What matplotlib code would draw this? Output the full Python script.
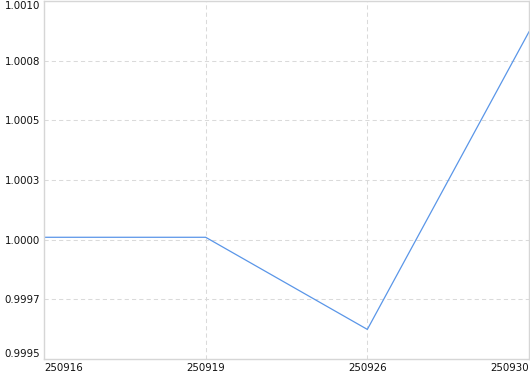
#Importing the required packages
import matplotlib
matplotlib.use('Agg')
import matplotlib.pyplot as plt

#Data
dates = ['250916', '250919', '250926', '250930']
values = [1.00001, 1.00001, 0.999624, 1.000871]
y_ticks = [0.9995, 0.99975, 1.0, 1.00025, 1.0005, 1.00075, 1.001]
y_labels = ['0.9995', '0.9997', '1.0000', '1.0003', '1.0005', '1.0008', '1.0010']

plt.rcParams['font.family'] = 'DejaVu Sans'

fig = plt.figure(figsize=(5.3, 3.74), dpi=100)
ax = fig.add_axes([44/530, 15/374, 485/530, 358/374])

x = list(range(len(dates)))
ax.plot(x, values, color='#5a96e8', linewidth=0.9)

ax.set_xlim(0, len(dates) - 1)
ax.set_ylim(y_ticks[0], y_ticks[-1])

ax.set_xticks(x)
ax.set_xticklabels(dates, fontsize=7.4, color='#111111')
ax.set_yticks(y_ticks)
ax.set_yticklabels(y_labels, fontsize=7.4, color='#111111')
ax.tick_params(axis='both', length=0)
ax.tick_params(axis='x', pad=3)
ax.tick_params(axis='y', pad=3)

#Edge labels sit inside the plot span
xl = ax.get_xticklabels()
xl[0].set_horizontalalignment('left')
xl[-1].set_horizontalalignment('right')
yl = ax.get_yticklabels()
yl[0].set_verticalalignment('bottom')
yl[-1].set_verticalalignment('top')

ax.grid(True, color='#dadada', linestyle=(0, (4, 3)), linewidth=0.75)
ax.set_axisbelow(True)
for s in ax.spines.values():
    s.set_color('#d6d6d6')
    s.set_linewidth(1.0)

fig.savefig('out.png', dpi=100)
